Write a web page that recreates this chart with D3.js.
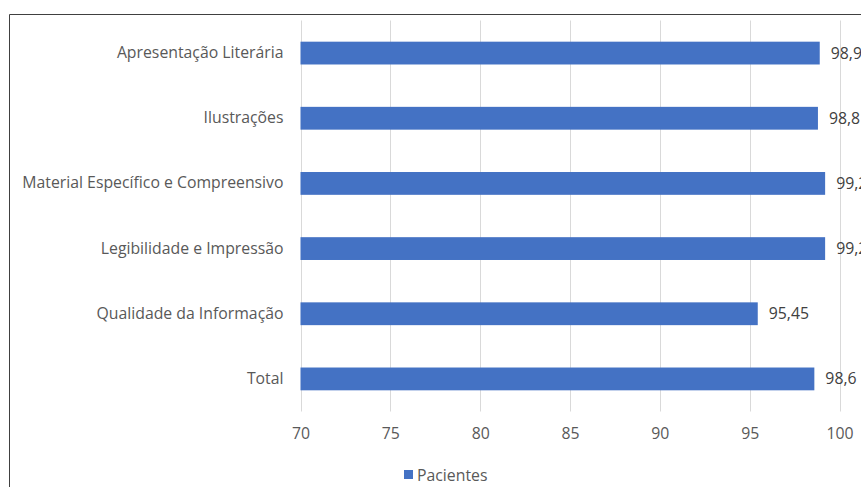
<!DOCTYPE html>
<html>
<head>
<meta charset="utf-8">
<script src="https://cdn.jsdelivr.net/npm/d3@7"></script>
<style>
  html, body { margin: 0; padding: 0; background: #fff; overflow: hidden; }
  svg { display: block; }
</style>
</head>
<body>
<svg id="chart" width="861" height="487"></svg>
<script>
const categories = [
  "Apresentação Literária",
  "Ilustrações",
  "Material Específico e Compreensivo",
  "Legibilidade e Impressão",
  "Qualidade da Informação",
  "Total"
];
const values = [98.9, 98.8, 99.2, 99.2, 95.45, 98.6];
const seriesName = "Pacientes";
const xTicks = [70, 75, 80, 85, 90, 95, 100];

(function () {
const svg = d3.select("#chart");
const font = "'Open Sans', sans-serif";
const fs = 15.8;
const textColor = "#595959";
const barColor = "#4472C4";

// chart frame (cropped border)
svg.append("path")
  .attr("d", "M9.5,487 V14.5 H861")
  .attr("fill", "none")
  .attr("stroke", "#404040")
  .attr("stroke-width", 1);

const plotLeft = 300.5, plotRight = 839.5, plotTop = 20.5, plotBottom = 411.5;

const x = d3.scaleLinear().domain([70, 100]).range([plotLeft, plotRight]);
const y = d3.scaleBand().domain(categories).range([plotTop, plotBottom]).paddingInner(0.65).paddingOuter(0.325);

// gridlines
svg.append("g").selectAll("line")
  .data(xTicks)
  .join("line")
  .attr("x1", d => Math.round(x(d)) + 0.5)
  .attr("x2", d => Math.round(x(d)) + 0.5)
  .attr("y1", plotTop)
  .attr("y2", plotBottom)
  .attr("stroke", "#d9d9d9")
  .attr("stroke-width", 1);

// x axis tick labels via d3 axis
const xAxis = d3.axisBottom(x).tickValues(xTicks).tickSize(0).tickPadding(0).tickFormat(d3.format("d"));
const gx = svg.append("g").attr("transform", `translate(0, ${plotBottom + 16})`).call(xAxis);
gx.select(".domain").remove();
gx.selectAll("text")
  .attr("fill", textColor)
  .attr("font-family", font)
  .attr("font-size", fs)
  .attr("dy", "0.71em");

// y axis labels
const yAxis = d3.axisLeft(y).tickSize(0).tickPadding(17);
const gy = svg.append("g").attr("transform", `translate(${plotLeft}, 0)`).call(yAxis);
gy.select(".domain").remove();
gy.selectAll("text")
  .attr("fill", textColor)
  .attr("font-family", font)
  .attr("font-size", fs);

// bars
svg.append("g").selectAll("rect")
  .data(values)
  .join("rect")
  .attr("x", x(70))
  .attr("y", (d, i) => y(categories[i]))
  .attr("width", d => x(d) - x(70))
  .attr("height", y.bandwidth())
  .attr("fill", barColor);

// value labels
svg.append("g").selectAll("text")
  .data(values)
  .join("text")
  .attr("x", d => x(d) + 11)
  .attr("y", (d, i) => y(categories[i]) + y.bandwidth() / 2)
  .attr("dy", "0.35em")
  .attr("fill", "#404040")
  .attr("font-family", font)
  .attr("font-size", fs)
  .text(d => String(d).replace(".", ","));

// legend
const lg = svg.append("g").attr("transform", "translate(404, 475)");
lg.append("rect").attr("x", 0).attr("y", -5).attr("width", 9).attr("height", 9).attr("fill", barColor);
lg.append("text").attr("x", 13).attr("y", 0).attr("dy", "0.35em")
  .attr("fill", textColor).attr("font-family", font).attr("font-size", fs).text(seriesName);
})();
</script>
</body>
</html>
